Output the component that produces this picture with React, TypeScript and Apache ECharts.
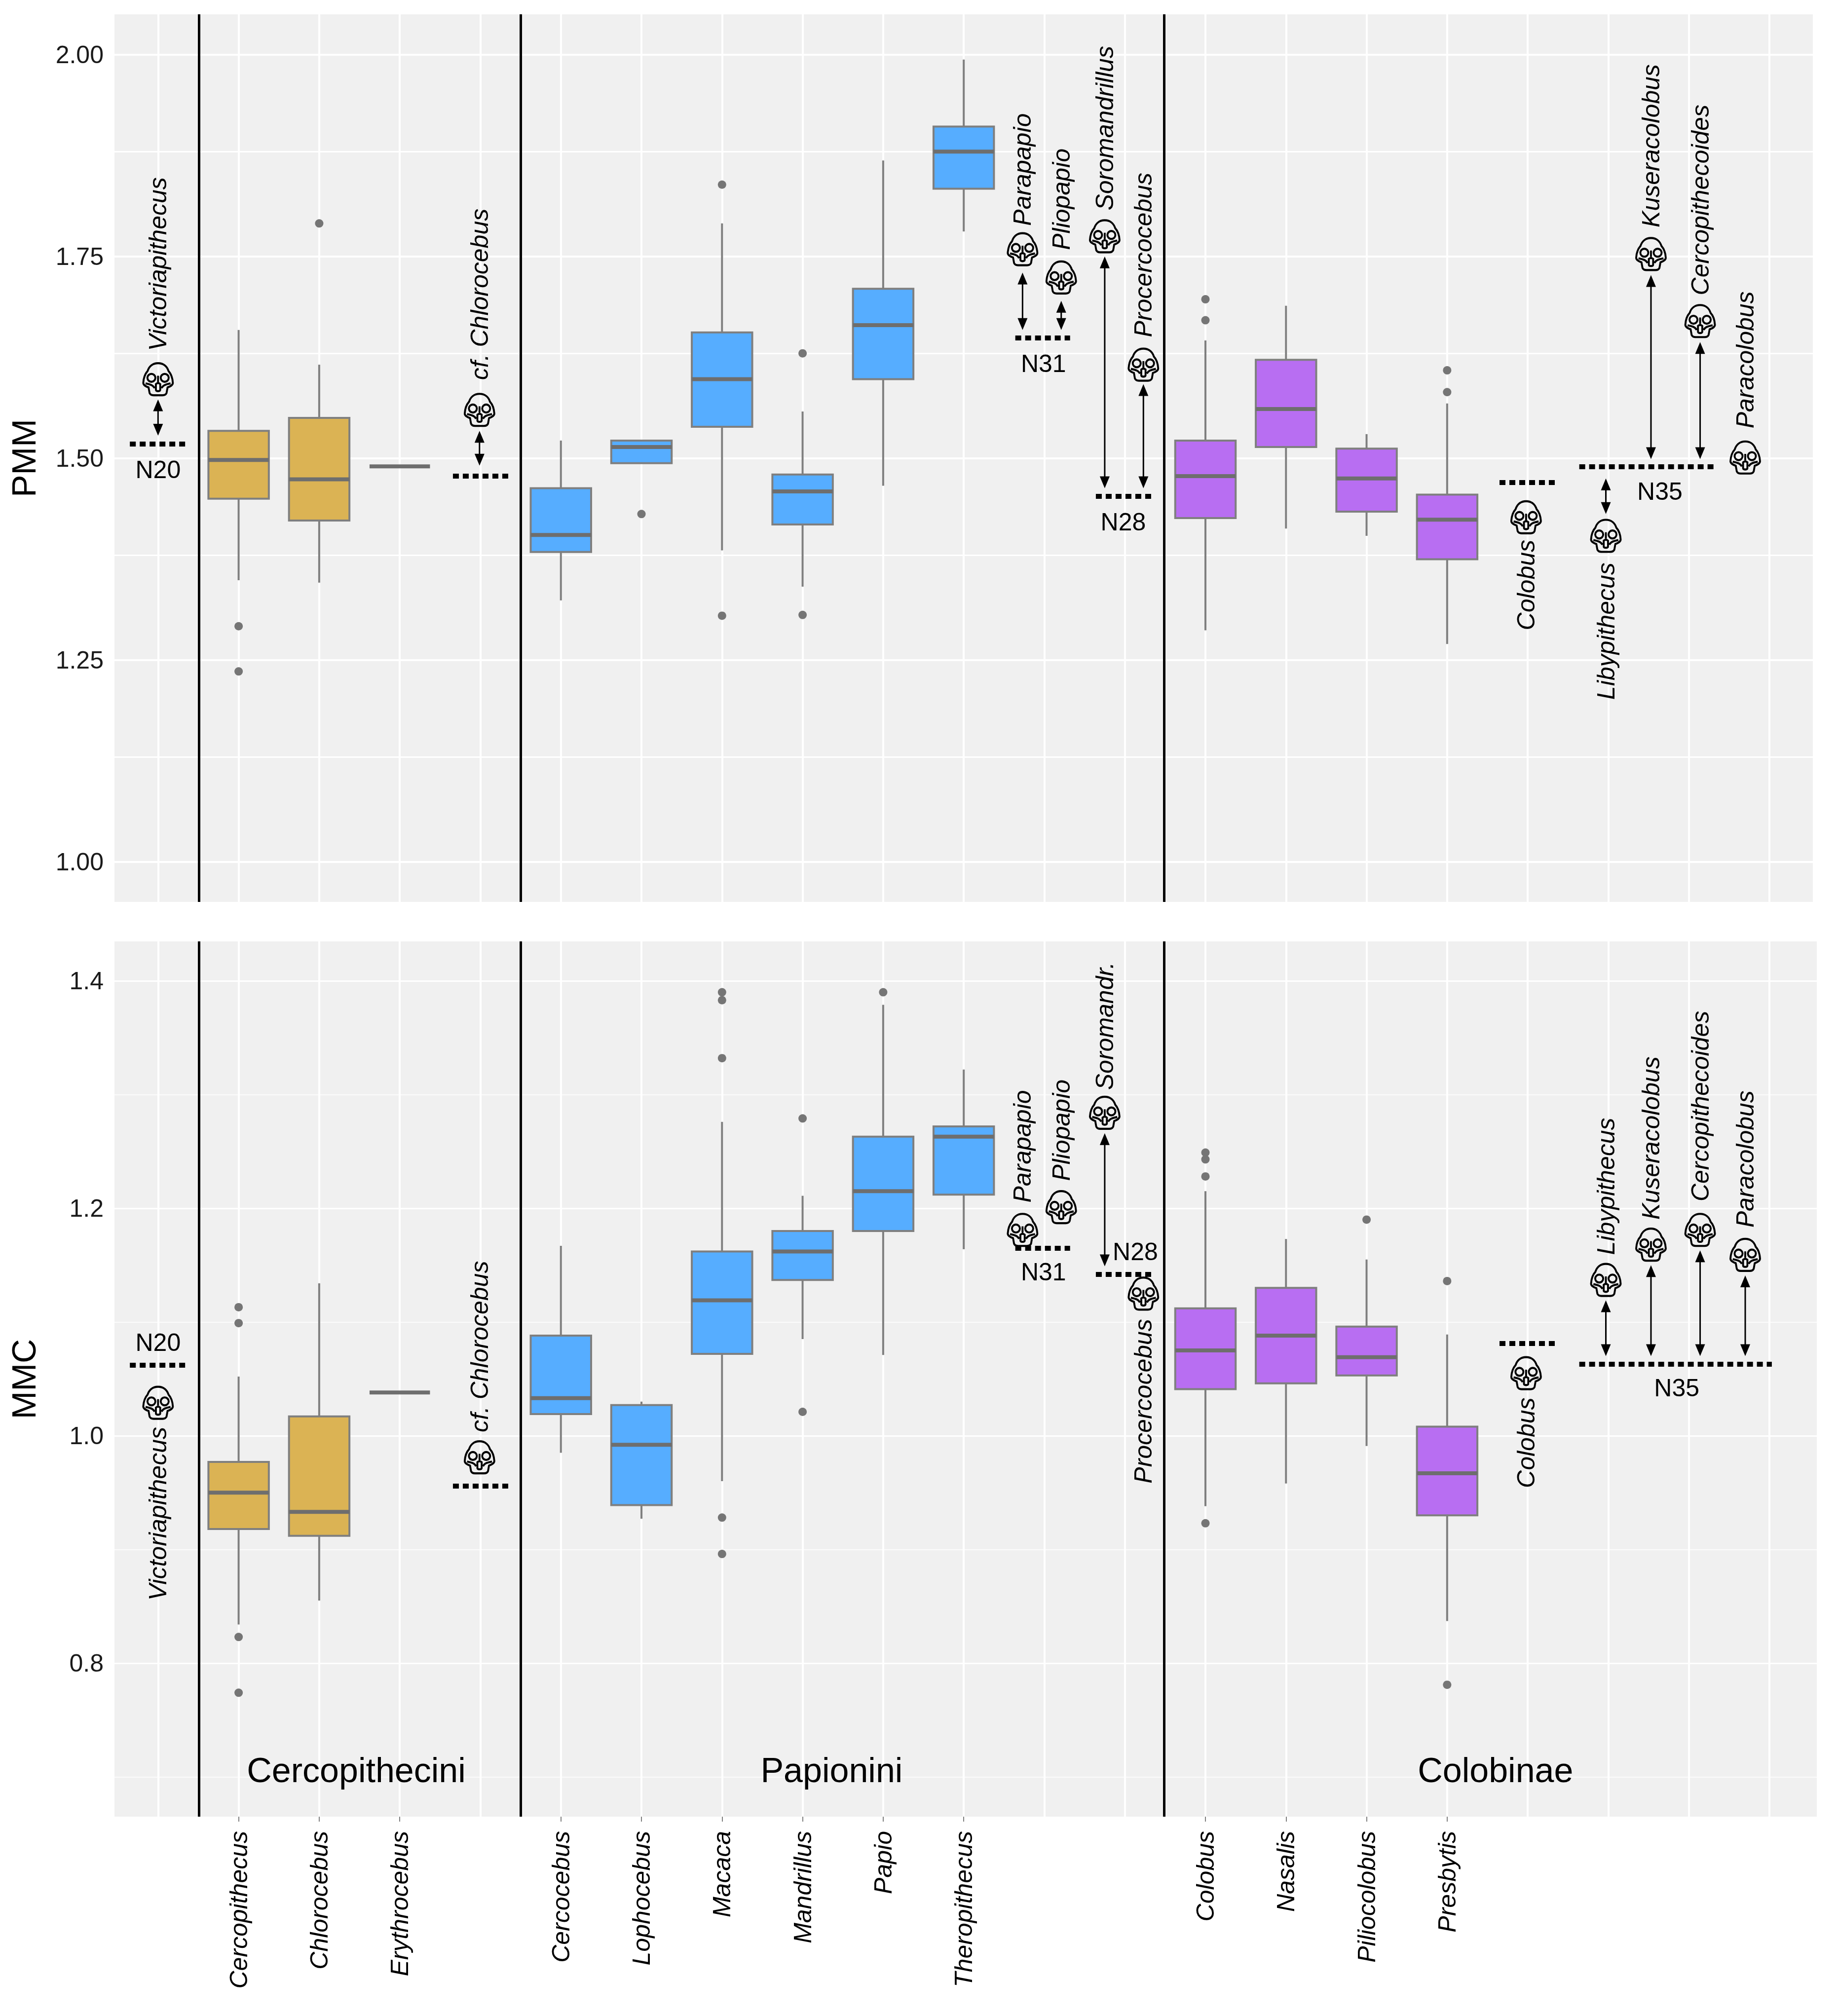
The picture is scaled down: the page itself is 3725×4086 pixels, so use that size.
// Cercopithecid PMM / MMC boxplots with fossil taxa marked on the same axes
import { useRef, useEffect } from "react";
import * as echarts from "echarts";

const genera: Record<number, string> = {
  2: "Cercopithecus",
  3: "Chlorocebus",
  4: "Erythrocebus",
  6: "Cercocebus",
  7: "Lophocebus",
  8: "Macaca",
  9: "Mandrillus",
  10: "Papio",
  11: "Theropithecus",
  14: "Colobus",
  15: "Nasalis",
  16: "Piliocolobus",
  17: "Presbytis",
};
const genusSlots = [2, 3, 4, 6, 7, 8, 9, 10, 11, 14, 15, 16, 17];
const allSlots = [1, 2, 3, 4, 5, 6, 7, 8, 9, 10, 11, 12, 13, 14, 15, 16, 17, 18, 19, 20, 21];
const tribeOfSlot = [0, 0, 0, 1, 1, 1, 1, 1, 1, 2, 2, 2, 2];
const tribeBreaks = [1.51, 5.5, 13.49];

// low, q1, median, q3, high
const pmmBoxes = [
  [1.349, 1.45, 1.498, 1.534, 1.659],
  [1.346, 1.423, 1.474, 1.55, 1.616],
  [1.49, 1.49, 1.49, 1.49, 1.49],
  [1.324, 1.384, 1.405, 1.463, 1.522],
  [1.494, 1.494, 1.514, 1.522, 1.522],
  [1.386, 1.539, 1.598, 1.656, 1.791],
  [1.341, 1.418, 1.459, 1.48, 1.558],
  [1.466, 1.598, 1.665, 1.71, 1.869],
  [1.781, 1.834, 1.88, 1.911, 1.994],
  [1.287, 1.426, 1.478, 1.522, 1.646],
  [1.413, 1.514, 1.561, 1.622, 1.689],
  [1.404, 1.434, 1.475, 1.512, 1.53],
  [1.27, 1.375, 1.424, 1.455, 1.568],
];
const mmcBoxes = [
  [0.834, 0.918, 0.95, 0.977, 1.052],
  [0.855, 0.912, 0.933, 1.017, 1.134],
  [1.038, 1.038, 1.038, 1.038, 1.038],
  [0.985, 1.019, 1.033, 1.088, 1.167],
  [0.927, 0.939, 0.992, 1.027, 1.03],
  [0.96, 1.072, 1.119, 1.162, 1.276],
  [1.085, 1.137, 1.162, 1.18, 1.211],
  [1.071, 1.18, 1.215, 1.263, 1.379],
  [1.164, 1.212, 1.263, 1.272, 1.322],
  [0.938, 1.041, 1.075, 1.112, 1.215],
  [0.958, 1.046, 1.088, 1.13, 1.173],
  [0.991, 1.053, 1.069, 1.096, 1.155],
  [0.837, 0.93, 0.967, 1.008, 1.089],
];
const pmmOutliers = [
  [2, 1.292], [2, 1.236], [3, 1.791], [7, 1.431], [8, 1.839], [8, 1.305], [9, 1.63], [9, 1.306],
  [14, 1.697], [14, 1.671], [17, 1.609], [17, 1.582],
];
const mmcOutliers = [
  [2, 0.823], [2, 0.774], [2, 1.099], [2, 1.113], [8, 0.896], [8, 0.928], [8, 1.332], [8, 1.383], [8, 1.39],
  [9, 1.279], [9, 1.021], [10, 1.39], [14, 0.923], [14, 1.228], [14, 1.243], [14, 1.249], [16, 1.19], [17, 1.136], [17, 0.781],
];

// x, y of each skull
const pmmSkulls = [
  [1, 1.598], [4.99, 1.56], [11.73, 1.759], [12.21, 1.724], [12.75, 1.775], [13.23, 1.616],
  [17.98, 1.427], [18.97, 1.404], [19.53, 1.753], [20.14, 1.67], [20.7, 1.501],
];
const mmcSkulls = [
  [1, 1.029], [4.99, 0.981], [11.73, 1.181], [12.21, 1.201], [12.75, 1.284], [13.23, 1.125],
  [17.98, 1.055], [18.97, 1.137], [19.53, 1.168], [20.14, 1.181], [20.7, 1.159],
];
// x, y where the text starts, name
const pmmFossilLabels: [number, number, string][] = [
  [1, 1.633, "Victoriapithecus"],
  [4.99, 1.597, "cf. Chlorocebus"],
  [11.73, 1.788, "Parapapio"],
  [12.21, 1.758, "Pliopapio"],
  [12.75, 1.807, "Soromandrillus"],
  [13.23, 1.65, "Procercocebus"],
  [17.98, 1.287, "Colobus"],
  [18.97, 1.201, "Libypithecus"],
  [19.53, 1.786, "Kuseracolobus"],
  [20.14, 1.702, "Cercopithecoides"],
  [20.7, 1.537, "Paracolobus"],
];
const mmcFossilLabels: [number, number, string][] = [
  [1, 0.855, "Victoriapithecus"],
  [4.99, 1.003, "cf. Chlorocebus"],
  [11.73, 1.205, "Parapapio"],
  [12.21, 1.224, "Pliopapio"],
  [12.75, 1.304, "Soromandr."],
  [13.23, 0.958, "Procercocebus"],
  [17.98, 0.954, "Colobus"],
  [18.97, 1.159, "Libypithecus"],
  [19.53, 1.19, "Kuseracolobus"],
  [20.14, 1.206, "Cercopithecoides"],
  [20.7, 1.183, "Paracolobus"],
];
// x, y from, y to
const pmmArrows = [
  [1, 1.573, 1.528], [4.99, 1.534, 1.491], [11.73, 1.73, 1.659], [12.21, 1.695, 1.659], [12.75, 1.75, 1.463],
  [13.23, 1.592, 1.463], [18.97, 1.475, 1.431], [19.53, 1.727, 1.499], [20.14, 1.644, 1.499],
];
const mmcArrows = [
  [12.75, 1.266, 1.149], [18.97, 1.119, 1.07], [19.53, 1.15, 1.07], [20.14, 1.163, 1.07], [20.7, 1.141, 1.07],
];
// x from, x to, y
const pmmNodes = [
  [0.65, 1.35, 1.518], [4.66, 5.35, 1.478], [11.64, 12.32, 1.649], [12.64, 13.33, 1.453], [17.65, 18.34, 1.47], [18.64, 20.34, 1.49],
];
const mmcNodes = [
  [0.65, 1.35, 1.062], [4.66, 5.35, 0.956], [11.64, 12.32, 1.165], [12.64, 13.33, 1.142], [17.65, 18.34, 1.081], [18.64, 21.03, 1.063],
];
const pmmNodeLabels: [number, number, string][] = [
  [1, 1.486, "N20"], [11.99, 1.617, "N31"], [12.98, 1.421, "N28"], [19.64, 1.459, "N35"],
];
const mmcNodeLabels: [number, number, string][] = [
  [1, 1.082, "N20"], [11.99, 1.144, "N31"], [13.13, 1.162, "N28"], [19.85, 1.042, "N35"],
];
const tribeLabels: [number, number, string][] = [
  [3.46, 0.706, "Cercopithecini"],
  [9.36, 0.706, "Papionini"],
  [17.6, 0.706, "Colobinae"],
];

const pmmTicks = [1, 1.25, 1.5, 1.75, 2];
const pmmMinor = [1.125, 1.375, 1.625, 1.875];
const mmcTicks = [0.8, 1, 1.2, 1.4];
const mmcMinor = [0.7, 0.9, 1.1, 1.3];

const tribeColors = ["#DBB354", "#56ADFF", "#B86EF2"];
const FONT = "Liberation Sans, Arial, sans-serif";
const GREY = "#7F7F7F";
const skullPath =
  "path://M155 48C120 48 100 70 92 95C78 110 68 135 66 165C66 178 80 185 98 192L104 225Q110 238 128 238L182 238Q200 238 206 225L212 192C230 185 244 178 244 165C242 135 232 110 218 95C210 70 190 48 155 48Z" +
  "M139 135A24 24 0 1 0 91 135A24 24 0 1 0 139 135Z M219 135A24 24 0 1 0 171 135A24 24 0 1 0 219 135Z" +
  "M142 172L142 205Q142 214 155 214Q168 214 168 205L168 172Q155 160 142 172Z M155 122L155 160" +
  "M80 168C100 172 125 176 134 196 M230 168C210 172 185 176 176 196";

const renderBox = (params: any, api: any) => {
  const x = api.value(0);
  const color = tribeColors[tribeOfSlot[params.dataIndex]];
  const half = api.size([0.75, 0])[0] / 2;
  const [cx, low] = api.coord([x, api.value(1)]);
  const q1 = api.coord([x, api.value(2)])[1];
  const med = api.coord([x, api.value(3)])[1];
  const q3 = api.coord([x, api.value(4)])[1];
  const high = api.coord([x, api.value(5)])[1];
  const flat = q1 === q3;
  const whisker = { stroke: GREY, lineWidth: 4, fill: "none" };
  const children: any[] = [];
  if (!flat) {
    children.push(
      { type: "line", shape: { x1: cx, y1: low, x2: cx, y2: q1 }, style: whisker },
      { type: "line", shape: { x1: cx, y1: q3, x2: cx, y2: high }, style: whisker },
      {
        type: "rect",
        shape: { x: cx - half, y: q3, width: half * 2, height: q1 - q3 },
        style: { fill: color, stroke: GREY, lineWidth: 4 },
      }
    );
  }
  children.push({
    type: "line",
    shape: { x1: cx - half, y1: med, x2: cx + half, y2: med },
    style: { stroke: "#6E6E6E", lineWidth: 8, fill: "none" },
  });
  return { type: "group", children };
};

// double headed arrow, the tips sit on the two y values
const renderArrow = (params: any, api: any) => {
  const x = api.value(0);
  const [cx, top] = api.coord([x, api.value(1)]);
  const bottom = api.coord([x, api.value(2)])[1];
  const head = 24;
  const wing = 10;
  return {
    type: "group",
    children: [
      {
        type: "line",
        shape: { x1: cx, y1: top + head - 2, x2: cx, y2: bottom - head + 2 },
        style: { stroke: "#000", lineWidth: 3, fill: "none" },
      },
      {
        type: "polygon",
        shape: { points: [[cx, top], [cx - wing, top + head], [cx + wing, top + head]] },
        style: { fill: "#000" },
      },
      {
        type: "polygon",
        shape: { points: [[cx, bottom], [cx - wing, bottom - head], [cx + wing, bottom - head]] },
        style: { fill: "#000" },
      },
    ],
  };
};

const textSeries = (panel: number, rows: [number, number, string][], extra: any, z = 8) => ({
  type: "scatter",
  xAxisIndex: panel,
  yAxisIndex: panel,
  symbolSize: 0,
  silent: true,
  z,
  itemStyle: { opacity: 1 },
  data: rows,
  label: {
    show: true,
    position: [0, 0],
    verticalAlign: "middle",
    color: "#000",
    fontFamily: FONT,
    formatter: (p: any) => p.data[2],
    ...extra,
  },
});

const panelSeries = (
  panel: number,
  boxes: number[][],
  outliers: number[][],
  skulls: number[][],
  fossilLabels: [number, number, string][],
  arrows: number[][],
  nodes: number[][],
  nodeLabels: [number, number, string][],
  ticks: number[],
  minor: number[],
  majorWidth: number,
  minorWidth: number
): any[] => {
  const axes = { xAxisIndex: panel, yAxisIndex: panel };
  return [
    {
      type: "scatter",
      ...axes,
      data: [],
      silent: true,
      z: 1,
      markLine: {
        silent: true,
        symbol: "none",
        label: { show: false },
        animation: false,
        z: 1,
        data: [
          ...minor.map((v) => ({ yAxis: v, lineStyle: { color: "#fff", width: minorWidth, type: "solid" } })),
          ...ticks.map((v) => ({ yAxis: v, lineStyle: { color: "#fff", width: majorWidth, type: "solid" } })),
          ...allSlots.map((v) => ({ xAxis: v, lineStyle: { color: "#fff", width: 4, type: "solid" } })),
        ],
      },
    },
    {
      type: "scatter",
      ...axes,
      data: [],
      silent: true,
      z: 2,
      markLine: {
        silent: true,
        symbol: "none",
        label: { show: false },
        animation: false,
        z: 2,
        data: tribeBreaks.map((v) => ({ xAxis: v, lineStyle: { color: "#000", width: 5, type: "solid" } })),
      },
    },
    {
      type: "custom",
      ...axes,
      silent: true,
      z: 3,
      clip: false,
      encode: { x: 0, y: [1, 2, 3, 4, 5] },
      data: boxes.map((b, i) => [genusSlots[i], ...b]),
      renderItem: renderBox,
    },
    {
      type: "scatter",
      ...axes,
      silent: true,
      z: 4,
      symbol: "circle",
      symbolSize: 17,
      itemStyle: { color: "#757575", opacity: 1 },
      data: outliers,
    },
    {
      type: "scatter",
      ...axes,
      silent: true,
      z: 5,
      symbol: skullPath,
      symbolSize: [60, 65],
      itemStyle: { color: "transparent", borderColor: "#000", borderWidth: 4, opacity: 1 },
      data: skulls,
    },
    {
      type: "custom",
      ...axes,
      silent: true,
      z: 6,
      clip: false,
      encode: { x: 0, y: [1, 2] },
      data: arrows,
      renderItem: renderArrow,
    },
    {
      type: "scatter",
      ...axes,
      data: [],
      silent: true,
      z: 6,
      markLine: {
        silent: true,
        symbol: "none",
        label: { show: false },
        animation: false,
        z: 6,
        lineStyle: { color: "#000", width: 10, type: [12, 8] },
        data: nodes.map((n) => [{ coord: [n[0], n[2]] }, { coord: [n[1], n[2]] }]),
      },
    },
    textSeries(panel, fossilLabels, { rotate: 90, align: "left", fontStyle: "italic", fontSize: 50 }),
    textSeries(panel, nodeLabels, { align: "center", fontSize: 50 }),
  ];
};

const yAxisFor = (panel: number, name: string, min: number, max: number, ticks: number[], digits: number) => ({
  type: "value",
  gridIndex: panel,
  min,
  max,
  name,
  nameLocation: "middle",
  nameRotate: 90,
  nameGap: 150,
  nameTextStyle: { fontSize: 68, color: "#000", fontFamily: FONT },
  axisLine: { show: false },
  axisTick: { show: false },
  splitLine: { show: false },
  minorSplitLine: { show: false },
  axisLabel: {
    customValues: ticks,
    margin: 22,
    fontSize: 50,
    color: "#1A1A1A",
    fontFamily: FONT,
    formatter: (v: number) => v.toFixed(digits),
  },
});

const App = () => {
  const chartRef = useRef<HTMLDivElement>(null);

  useEffect(() => {
    const myChart = echarts.init(chartRef.current, null, { renderer: "svg" });
    myChart.setOption({
      animation: false,
      backgroundColor: "#fff",
      grid: [
        { left: 232, top: 29, width: 3442, height: 1799, show: true, backgroundColor: "#F0F0F0", borderWidth: 0, outerBoundsMode: "none" },
        { left: 232, top: 1908, width: 3450, height: 1774, show: true, backgroundColor: "#F0F0F0", borderWidth: 0, outerBoundsMode: "none" },
      ],
      xAxis: [
        {
          type: "value",
          gridIndex: 0,
          min: 0.459,
          max: 21.539,
          axisLine: { show: false },
          axisTick: { show: false },
          axisLabel: { show: false },
          splitLine: { show: false },
        },
        {
          type: "value",
          gridIndex: 1,
          min: 0.459,
          max: 21.588,
          axisLine: { show: false },
          splitLine: { show: false },
          axisTick: { customValues: genusSlots, length: 10, lineStyle: { color: GREY, width: 2 } },
          axisLabel: {
            customValues: genusSlots,
            rotate: 90,
            margin: 29,
            fontSize: 50,
            fontStyle: "italic",
            color: "#000",
            fontFamily: FONT,
            formatter: (v: number) => genera[v],
          },
        },
      ],
      yAxis: [
        yAxisFor(0, "PMM", 0.9505, 2.05, pmmTicks, 2),
        yAxisFor(1, "MMC", 0.665, 1.4347, mmcTicks, 1),
      ],
      series: [
        ...panelSeries(0, pmmBoxes, pmmOutliers, pmmSkulls, pmmFossilLabels, pmmArrows, pmmNodes, pmmNodeLabels, pmmTicks, pmmMinor, 4, 3),
        ...panelSeries(1, mmcBoxes, mmcOutliers, mmcSkulls, mmcFossilLabels, mmcArrows, mmcNodes, mmcNodeLabels, mmcTicks, mmcMinor, 3, 1.5),
        textSeries(1, tribeLabels, { align: "center", fontSize: 70 }),
      ],
    });

    return () => {
      myChart.dispose();
    };
  }, []);

  return <div ref={chartRef} style={{ position: "absolute", left: 0, top: 0, width: "3725px", height: "4086px" }}></div>;
};

export default App;
